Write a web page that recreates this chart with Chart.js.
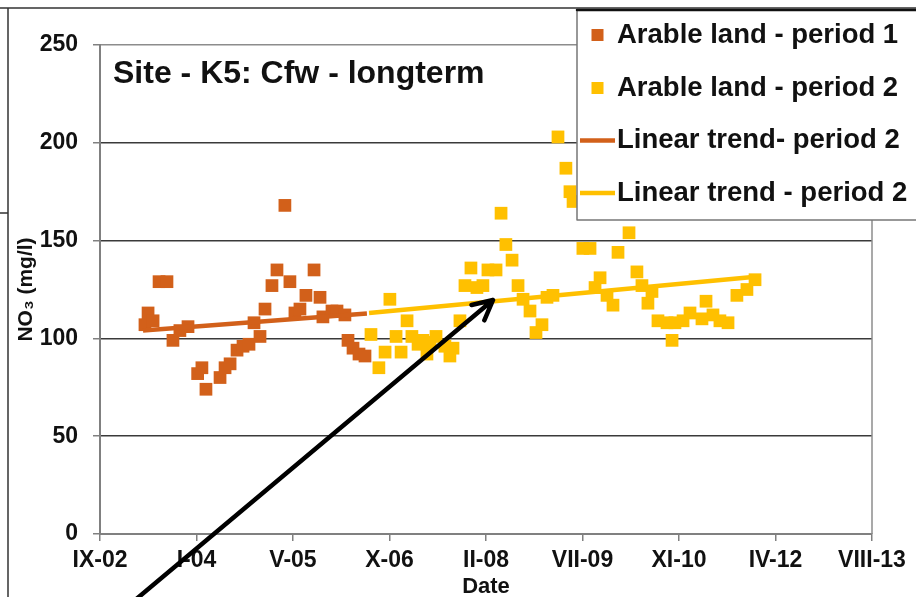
<!DOCTYPE html>
<html>
<head>
<meta charset="utf-8">
<title>Site - K5: Cfw - longterm</title>
<script src="https://cdn.jsdelivr.net/npm/chart.js@4.4.1/dist/chart.umd.min.js"></script>
<style>
  html, body { margin: 0; padding: 0; background: #fff; }
  #wrap { position: relative; width: 916px; height: 597px; }
</style>
</head>
<body>
<div id="wrap"><canvas id="chart" width="916" height="597"></canvas></div>
<script>
// x values are days counted from the first axis tick (IX-02), ticks every 500 days
const xTickLabels = ['IX-02', 'I-04', 'V-05', 'X-06', 'II-08', 'VII-09', 'XI-10', 'IV-12', 'VIII-13'];
const chartTitle = 'Site - K5: Cfw - longterm';

const period1Days = [233, 249, 275, 306, 347, 378, 414, 456, 506, 528, 549, 622, 648, 674, 710, 741, 772, 798,
  829, 855, 891, 917, 958, 984, 1010, 1036, 1067, 1109, 1140, 1155, 1202, 1228, 1269, 1285, 1311, 1342, 1373];
const period1No3 = [107, 113, 109, 129, 129, 99, 104, 106, 82, 85, 74, 80, 85, 87, 94, 96, 97, 108,
  101, 115, 127, 135, 168, 129, 113, 115, 122, 135, 121, 111, 114, 114, 112, 99, 95, 92, 91];

const period2Days = [1404, 1445, 1477, 1502, 1534, 1560, 1591, 1616, 1648, 1673, 1694, 1710, 1741, 1787, 1813,
  1829, 1865, 1891, 1922, 1953, 1984, 2010, 2052, 2078, 2103, 2135, 2166, 2192, 2228, 2259, 2290, 2316,
  2347, 2373, 2414, 2435, 2451, 2502, 2539, 2565, 2591, 2627, 2658, 2684, 2741, 2782, 2808, 2839, 2860,
  2891, 2938, 2964, 2979, 3021, 3057, 3119, 3140, 3176, 3212, 3254, 3300, 3352, 3394];
const period2No3 = [102, 85, 93, 120, 101, 93, 109, 101, 97, 99, 92, 98, 101, 96, 91,
  95, 109, 127, 136, 126, 127, 135, 135, 164, 148, 140, 127, 120, 114, 103, 107, 121,
  122, 203, 187, 175, 170, 146, 146, 126, 131, 122, 117, 144, 154, 134, 127, 118, 124,
  109, 108, 99, 108, 109, 113, 110, 119, 112, 109, 108, 122, 125, 130];

const trend1Days = [223, 1383];
const trend1No3 = [104, 112.7];
const trend2Days = [1394, 3410];
const trend2No3 = [113, 131.7];

// annotation arrow, [day, value] of tail and tip
const arrowFrom = [155, -36];
const arrowTo = [2036, 119.6];

const ORANGE = '#D2601A';
const YELLOW = '#FFC000';
const FONT = '"Liberation Sans", Arial, sans-serif';

function toPoints(xs, ys) {
  return xs.map((x, i) => ({ x: x, y: ys[i] }));
}

const decor = {
  id: 'decor',
  afterDraw(chart) {
    const ctx = chart.ctx;
    const area = chart.chartArea;
    const sx = chart.scales.x;
    const sy = chart.scales.y;
    ctx.save();

    // slide frame remains
    ctx.strokeStyle = '#333';
    ctx.lineWidth = 1.5;
    ctx.beginPath();
    ctx.moveTo(0, 8); ctx.lineTo(chart.width, 8);
    ctx.moveTo(8, 8); ctx.lineTo(8, chart.height);
    ctx.moveTo(0, 213); ctx.lineTo(8, 213);
    ctx.stroke();

    // right edge of the plot
    ctx.strokeStyle = '#8c8c8c';
    ctx.lineWidth = 1.5;
    ctx.beginPath();
    ctx.moveTo(area.right, area.top);
    ctx.lineTo(area.right, area.bottom);
    ctx.stroke();

    // title inside the plot
    ctx.fillStyle = '#111';
    ctx.font = 'bold 32px ' + FONT;
    ctx.textBaseline = 'alphabetic';
    ctx.textAlign = 'left';
    ctx.fillText(chartTitle, area.left + 13, area.top + 38);

    // arrow
    const x0 = sx.getPixelForValue(arrowFrom[0]), y0 = sy.getPixelForValue(arrowFrom[1]);
    const x1 = sx.getPixelForValue(arrowTo[0]), y1 = sy.getPixelForValue(arrowTo[1]);
    const ang = Math.atan2(y1 - y0, x1 - x0);
    ctx.strokeStyle = '#000';
    ctx.lineWidth = 4.5;
    ctx.lineCap = 'round';
    ctx.lineJoin = 'round';
    ctx.beginPath();
    ctx.moveTo(x0, y0);
    ctx.lineTo(x1, y1);
    ctx.moveTo(x1 - 22 * Math.cos(ang - 0.47), y1 - 22 * Math.sin(ang - 0.47));
    ctx.lineTo(x1, y1);
    ctx.lineTo(x1 - 22 * Math.cos(ang + 0.47), y1 - 22 * Math.sin(ang + 0.47));
    ctx.stroke();

    // legend box over the plot
    const bx = 577, by = 10, bh = 210;
    ctx.fillStyle = '#fff';
    ctx.fillRect(bx, by, chart.width - bx + 5, bh);
    ctx.strokeStyle = '#777';
    ctx.lineWidth = 1.5;
    ctx.strokeRect(bx, by, chart.width - bx + 5, bh);
    ctx.strokeStyle = '#111';
    ctx.lineWidth = 2.5;
    ctx.beginPath();
    ctx.moveTo(bx, by); ctx.lineTo(chart.width, by);
    ctx.stroke();

    const rows = [35, 88, 140.5, 193];
    const sets = chart.data.datasets;
    ctx.font = 'bold 27.5px ' + FONT;
    ctx.textBaseline = 'middle';
    sets.forEach((ds, i) => {
      const yy = rows[i];
      if (ds.showLine) {
        ctx.strokeStyle = ds.borderColor;
        ctx.lineWidth = 4.5;
        ctx.lineCap = 'butt';
        ctx.beginPath();
        ctx.moveTo(580, yy); ctx.lineTo(615, yy);
        ctx.stroke();
      } else {
        ctx.fillStyle = ds.backgroundColor;
        ctx.fillRect(591.5, yy - 6, 12, 12);
      }
      ctx.fillStyle = '#111';
      ctx.fillText(ds.label, 617, yy);
    });
    ctx.restore();
  }
};

new Chart(document.getElementById('chart'), {
  type: 'scatter',
  data: {
    datasets: [
      {
        label: 'Arable land - period 1',
        data: toPoints(period1Days, period1No3),
        backgroundColor: ORANGE,
        pointStyle: 'rect',
        pointRadius: 9,
        pointHoverRadius: 9,
        borderWidth: 0,
        order: 1
      },
      {
        label: 'Arable land - period 2',
        data: toPoints(period2Days, period2No3),
        backgroundColor: YELLOW,
        pointStyle: 'rect',
        pointRadius: 9,
        pointHoverRadius: 9,
        borderWidth: 0,
        order: 1
      },
      {
        label: 'Linear trend- period 2',
        data: toPoints(trend1Days, trend1No3),
        showLine: true,
        borderColor: ORANGE,
        backgroundColor: ORANGE,
        borderWidth: 4.5,
        pointRadius: 0,
        order: 0
      },
      {
        label: 'Linear trend - period 2',
        data: toPoints(trend2Days, trend2No3),
        showLine: true,
        borderColor: YELLOW,
        backgroundColor: YELLOW,
        borderWidth: 4.5,
        pointRadius: 0,
        order: 0
      }
    ]
  },
  options: {
    responsive: false,
    animation: false,
    devicePixelRatio: 1,
    layout: { padding: { top: 45, right: 44, left: 0, bottom: 0 } },
    plugins: {
      legend: { display: false },
      tooltip: { enabled: false }
    },
    scales: {
      x: {
        type: 'linear',
        min: 0,
        max: 4000,
        afterFit: (s) => { s.height = 63; },
        ticks: {
          stepSize: 500,
          autoSkip: false,
          maxRotation: 0,
          padding: 6,
          color: '#111',
          font: { family: FONT, size: 23, weight: 'bold' },
          callback: (v) => xTickLabels[Math.round(v / 500)]
        },
        grid: { drawOnChartArea: false, tickLength: 7, color: '#808080', lineWidth: 1.5 },
        border: { color: '#808080', width: 2 },
        title: {
          display: true,
          text: 'Date',
          color: '#111',
          font: { family: FONT, size: 22, weight: 'bold', lineHeight: 0.9 },
          padding: { top: 0, bottom: 0 }
        }
      },
      y: {
        min: 0,
        max: 250,
        afterFit: (s) => { s.width = 100; },
        ticks: {
          stepSize: 50,
          padding: 15,
          color: '#111',
          font: { family: FONT, size: 23, weight: 'bold' }
        },
        grid: {
          tickLength: 7,
          lineWidth: 1.5,
          color: (c) => (c.tick && c.tick.value === 250 ? '#8c8c8c' : '#3a3a3a'),
          tickColor: '#808080'
        },
        border: { color: '#808080', width: 2 },
        title: {
          display: true,
          text: 'NO₃ (mg/l)',
          color: '#111',
          font: { family: FONT, size: 21, weight: 'bold' },
          padding: { top: 14, bottom: 0 }
        }
      }
    }
  },
  plugins: [decor]
});
</script>
</body>
</html>
